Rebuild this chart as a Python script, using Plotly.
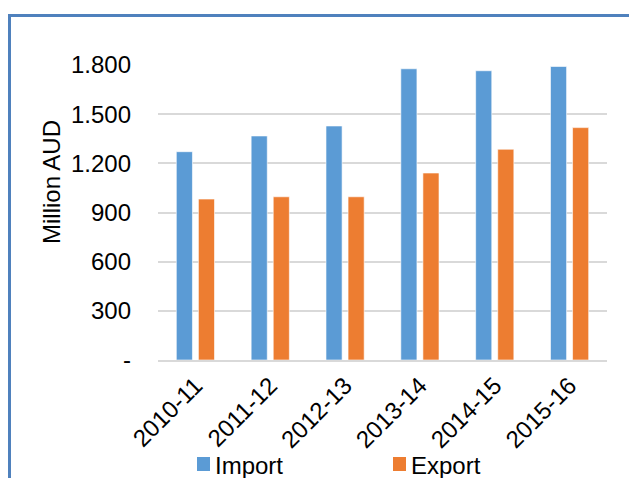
import plotly.graph_objects as go

# Trade values by financial year (million AUD)
years = ["2010-11", "2011-12", "2012-13", "2013-14", "2014-15", "2015-16"]
imports = [1271, 1367, 1428, 1777, 1765, 1791]
exports = [982, 996, 996, 1141, 1286, 1418]
series_names = ["Import", "Export"]
series_colors = ["#5B9BD5", "#ED7D31"]

tick_vals = [0, 300, 600, 900, 1200, 1500, 1800]
tick_text = ["-", "300", "600", "900", "1.200", "1.500", "1.800"]
y_title = "Million AUD"

W, H = 629, 478
L, R, T, B = 158, 22, 65, 118
plot_w = W - L - R
plot_h = H - T - B

FONT = "Liberation Sans, Arial, sans-serif"
TXT = "#000000"
FS = 24


def px_x(px):
    return (px - L) / plot_w


def px_y(py):
    return (H - B - py) / plot_h


fig = go.Figure()
for name, vals, col in zip(series_names, [imports, exports], series_colors):
    fig.add_trace(go.Bar(
        name=name, x=years, y=vals, showlegend=False,
        marker=dict(color=col, line=dict(color="rgba(255,255,255,0.6)", width=1)),
    ))

# blue frame around the chart area (top and left edges visible)
fig.add_shape(
    type="rect", xref="paper", yref="paper",
    x0=px_x(9.5), x1=px_x(W + 20), y0=px_y(H + 20), y1=px_y(15.5),
    line=dict(color="#4F81BD", width=3), fillcolor="rgba(0,0,0,0)",
    layer="below",
)

# vertical axis title
fig.add_annotation(
    xref="paper", yref="paper", x=px_x(51), y=px_y(182),
    xanchor="center", yanchor="middle", textangle=-90,
    text=y_title, showarrow=False,
    font=dict(family=FONT, size=FS, color=TXT),
)

# legend drawn below the axis: colour square + series name
legend_left = [197, 393]
for x0, name, col in zip(legend_left, series_names, series_colors):
    fig.add_shape(
        type="rect", xref="paper", yref="paper",
        x0=px_x(x0), x1=px_x(x0 + 13), y0=px_y(471), y1=px_y(457),
        line=dict(width=0), fillcolor=col,
    )
    fig.add_annotation(
        xref="paper", yref="paper", x=px_x(x0 + 16), y=px_y(465),
        xanchor="left", yanchor="middle", text=name, showarrow=False,
        font=dict(family=FONT, size=FS, color=TXT),
    )

fig.update_layout(
    width=W, height=H,
    margin=dict(l=L, r=R, t=T, b=B, pad=0, autoexpand=False),
    paper_bgcolor="white", plot_bgcolor="white",
    font=dict(family=FONT, size=FS, color=TXT),
    barmode="group", bargap=0.41, bargroupgap=0.27,
    showlegend=False,
    xaxis=dict(
        type="category", automargin=False,
        tickangle=-45, showgrid=False,
        showline=True, linecolor="#D9D9D9", linewidth=2,
        ticks="", tickfont=dict(family=FONT, size=FS, color=TXT),
    ),
    yaxis=dict(
        automargin=False,
        range=[0, 1800], tickvals=tick_vals, ticktext=tick_text,
        showgrid=True, gridcolor="#D9D9D9", gridwidth=2,
        zeroline=False, showline=False, ticks="",
        ticklabelstandoff=26,
        tickfont=dict(family=FONT, size=FS, color=TXT),
    ),
)

fig.write_html("out.html")
